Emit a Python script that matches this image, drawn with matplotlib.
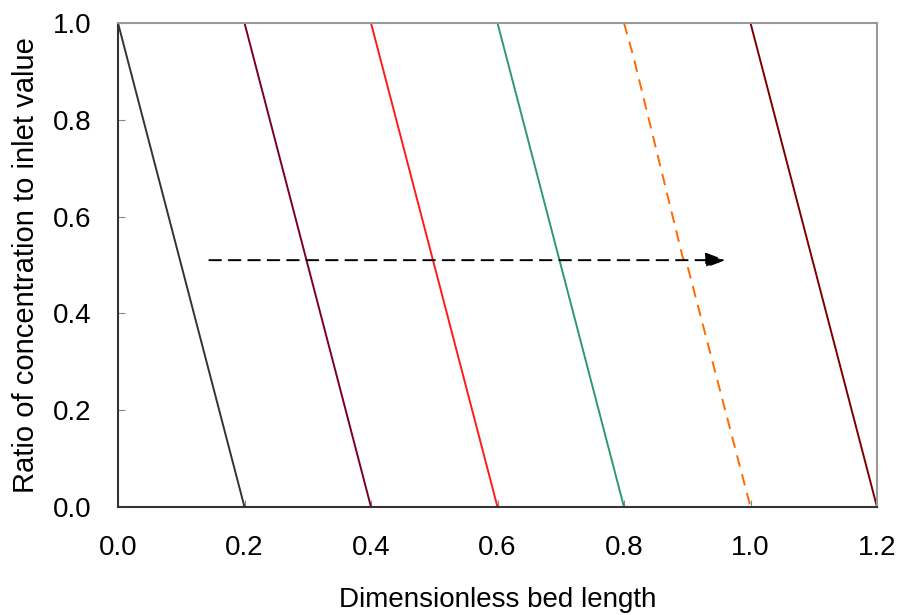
import numpy as np
import matplotlib.pyplot as plt

plt.rcParams['font.family'] = ['Liberation Sans', 'DejaVu Sans']

# concentration profiles moving down the bed (x at top, x at bottom)
profile_x = [
    [0.0, 0.2],
    [0.2, 0.4],
    [0.4, 0.6],
    [0.6, 0.8],
    [0.8, 0.815, 0.893, 0.9, 1.0],
    [1.0, 1.2],
]
profile_y = [
    [1.0, 0.0],
    [1.0, 0.0],
    [1.0, 0.0],
    [1.0, 0.0],
    [1.0, 0.93, 0.515, 0.5, 0.0],
    [1.0, 0.0],
]
colors = ["#333333", "#7a0020", "#ff1a1a", "#2e9a6a", "#ff6a00", "#7a0000"]
styles = ["-", "-", "-", "-", (0, (6, 4)), "-"]

# direction arrow
arrow_start = (0.14, 0.51)
arrow_end = (0.965, 0.51)

x_ticks = [0.0, 0.2, 0.4, 0.6, 0.8, 1.0, 1.2]
y_ticks = [0.0, 0.2, 0.4, 0.6, 0.8, 1.0]

fig = plt.figure(figsize=(8.99, 6.15), dpi=100)
ax = fig.add_axes([118 / 899, 1 - 507 / 615, 759 / 899, 484 / 615])

for xs, ys, c, ls in zip(profile_x, profile_y, colors, styles):
    ax.plot(xs, ys, color=c, linestyle=ls, linewidth=1.4)

ax.annotate("", xy=arrow_end, xytext=arrow_start,
            arrowprops=dict(arrowstyle="-|>,head_length=1.2,head_width=0.45",
                            linestyle=(0, (6, 4)), color="black", lw=1.4))

ax.set_xlim(0, 1.2)
ax.set_ylim(0, 1.0)
ax.set_xticks(x_ticks)
ax.set_yticks(y_ticks)
ax.set_xticklabels([f"{v:.1f}" for v in x_ticks])
ax.set_yticklabels([f"{v:.1f}" for v in y_ticks])
ax.tick_params(direction="in", length=5, colors="#888888", labelcolor="black",
               labelsize=20)
ax.tick_params(axis="x", pad=20)
ax.tick_params(axis="y", pad=19)

for side in ["top", "right"]:
    ax.spines[side].set_color("#999999")
for side in ["left", "bottom"]:
    ax.spines[side].set_color("#333333")
for s in ax.spines.values():
    s.set_linewidth(1.5)

ax.set_xlabel("Dimensionless bed length", fontsize=20, labelpad=19)
ax.set_ylabel("Ratio of concentration to inlet value", fontsize=21, labelpad=9)

fig.savefig("out.png", dpi=100)
